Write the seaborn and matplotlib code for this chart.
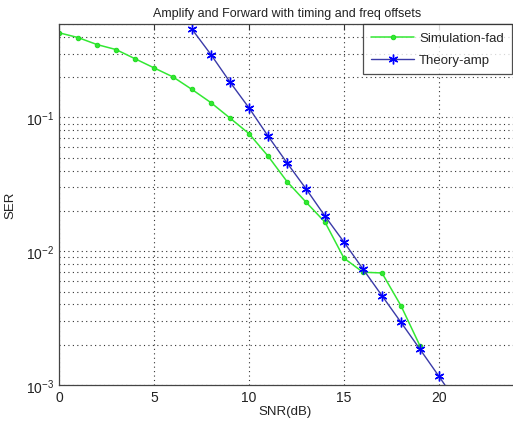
import numpy as np
import pandas as pd
import seaborn as sns
import matplotlib
matplotlib.use('Agg')
import matplotlib.pyplot as plt

# values
snr_sim = [0, 1, 2, 3, 4, 5, 6, 7, 8, 9, 10, 11, 12, 13, 14, 15, 16, 17, 18, 19]
ser_sim = [0.43, 0.396, 0.351, 0.322, 0.275, 0.235, 0.201, 0.162, 0.129, 0.099,
           0.0757, 0.0515, 0.0332, 0.0233, 0.0165, 0.00887, 0.00697, 0.00688,
           0.00391, 0.00196]
snr_thy = [7, 8, 9, 10, 11, 12, 13, 14, 15, 16, 17, 18, 19, 20, 21]
ser_thy = [0.457, 0.295, 0.184, 0.118, 0.0727, 0.0458, 0.0293, 0.0183, 0.0117,
           0.00736, 0.00465, 0.00294, 0.00185, 0.00116, 0.00072]

sns.set_style('white')
plt.rcParams['font.family'] = ['Liberation Sans', 'DejaVu Sans']
plt.rcParams['font.size'] = 9
plt.rcParams['mathtext.fontset'] = 'custom'
plt.rcParams['mathtext.rm'] = 'Liberation Sans'

fig = plt.figure(figsize=(5.13, 4.27), dpi=100)
ax = fig.add_axes([59 / 513, 41 / 427, 475 / 513, 361 / 427])

sim = pd.DataFrame({'snr': snr_sim, 'ser': ser_sim})
thy = pd.DataFrame({'snr': snr_thy, 'ser': ser_thy})

sns.lineplot(data=sim, x='snr', y='ser', ax=ax, color='#33e833', lw=1.1,
             marker='o', markersize=3.2, markeredgecolor='#22dd22',
             label='Simulation-fad')
sns.lineplot(data=thy, x='snr', y='ser', ax=ax, color='#3a3aa8', lw=1.0,
             marker=(6, 2, 0), markersize=7, markeredgecolor='#0000ff',
             markeredgewidth=1.0, label='Theory-amp')

ax.set_yscale('log')
ax.set_xlim(0, 25)
ax.set_ylim(1e-3, 0.5)
ax.set_xticks([0, 5, 10, 15, 20])

ax.grid(True, which='major', axis='both', color='#333333', ls=(0, (1, 3)), lw=0.8)
ax.grid(True, which='minor', axis='y', color='#333333', ls=(0, (1, 3)), lw=0.8)
ax.tick_params(which='both', direction='in', colors='#333333', labelcolor='#222222',
               labelsize=10, length=4, top=True, right=True)
ax.tick_params(which='minor', length=2)
for s in ax.spines.values():
    s.set_color('#444444')
    s.set_linewidth(0.9)

ax.set_title('Amplify and Forward with timing and freq offsets', fontsize=9,
             color='#222222', x=(287 - 59) / 475, pad=6)
ax.set_xlabel('SNR(dB)', fontsize=9.5, color='#222222')
ax.set_ylabel('SER', fontsize=9.5, color='#222222')
ax.xaxis.set_label_coords((285 - 59) / 475, -0.055)
ax.yaxis.set_label_coords((16 - 59) / 475, 0.5)

leg = ax.legend(loc='upper left', bbox_to_anchor=((363 - 59) / 475, 1.0),
                fontsize=9.5, frameon=True, fancybox=False, borderpad=0.6,
                labelspacing=0.75, handlelength=3.3, handletextpad=0.35,
                borderaxespad=0)
leg.get_frame().set_edgecolor('#222222')
leg.get_frame().set_linewidth(0.9)

fig.savefig('out.png', dpi=100)
